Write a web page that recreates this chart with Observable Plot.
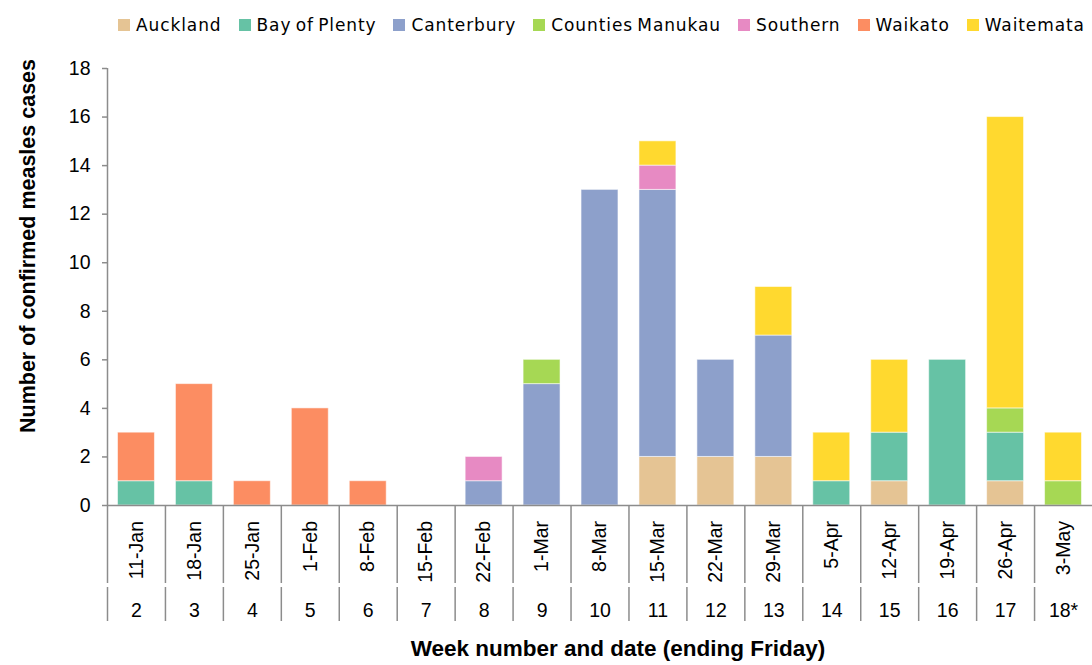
<!DOCTYPE html>
<html>
<head>
<meta charset="utf-8">
<script src="https://cdn.jsdelivr.net/npm/d3@7"></script>
<script src="https://cdn.jsdelivr.net/npm/@observablehq/plot@0.6"></script>
<style>
  html, body { margin: 0; padding: 0; background: #fff; }
  #wrap { width: 1092px; height: 665px; position: relative; overflow: hidden; }
  #legend { height: 50px; display: flex; align-items: center; padding-left: 118px; box-sizing: border-box;
            font-family: "DejaVu Sans", Verdana, sans-serif; font-size: 17px; letter-spacing: 0.9px; word-spacing: -2px; color: #000; white-space: nowrap; }
  .item { display: flex; align-items: center; margin-right: 17px; }
  .sw { width: 12px; height: 12px; margin-right: 6px; display: inline-block; }
  svg { display: block; }
</style>
</head>
<body>
<div id="wrap">
  <div id="legend"></div>
  <div id="chart"></div>
</div>
<script>
// Categories
const weeks = ["2","3","4","5","6","7","8","9","10","11","12","13","14","15","16","17","18*"];
const dates = ["11-Jan","18-Jan","25-Jan","1-Feb","8-Feb","15-Feb","22-Feb","1-Mar","8-Mar","15-Mar","22-Mar","29-Mar","5-Apr","12-Apr","19-Apr","26-Apr","3-May"];
const regions = ["Auckland","Bay of Plenty","Canterbury","Counties Manukau","Southern","Waikato","Waitemata"];
const colors = ["#e5c494","#66c2a5","#8da0cb","#a6d854","#e78ac3","#fc8d62","#ffd92f"];

// Series values (cases per week)
const auckland        = [0,0,0,0,0,0,0,0,0,2,2,2,0,1,0,1,0];
const bayOfPlenty     = [1,1,0,0,0,0,0,0,0,0,0,0,1,2,6,2,0];
const canterbury      = [0,0,0,0,0,0,1,5,13,11,4,5,0,0,0,0,0];
const countiesManukau = [0,0,0,0,0,0,0,1,0,0,0,0,0,0,0,1,1];
const southern        = [0,0,0,0,0,0,1,0,0,1,0,0,0,0,0,0,0];
const waikato         = [2,4,1,4,1,0,0,0,0,0,0,0,0,0,0,0,0];
const waitemata       = [0,0,0,0,0,0,0,0,0,1,0,2,2,3,0,12,2];

// Tick labels
const yTicks = [0,2,4,6,8,10,12,14,16,18];

const series = [auckland, bayOfPlenty, canterbury, countiesManukau, southern, waikato, waitemata];
const data = [];
series.forEach((vals, r) => vals.forEach((v, i) => { if (v > 0) data.push({week: weeks[i], region: regions[r], value: v}); }));
const dateOf = new Map(weeks.map((w, i) => [w, dates[i]]));

// Legend
const lg = document.getElementById("legend");
regions.forEach((r, i) => {
  const it = document.createElement("div"); it.className = "item";
  const sw = document.createElement("span"); sw.className = "sw"; sw.style.background = colors[i];
  const t = document.createElement("span"); t.textContent = r;
  it.appendChild(sw); it.appendChild(t); lg.appendChild(it);
});

const W = 1092, H = 615, mL = 107, mR = 0, mT = 18, mB = 160;
const bw = (W - mL - mR) / weeks.length;
const axisGray = "#8c8c8c";
const tickFont = 19.5;

const chart = Plot.plot({
  width: W, height: H,
  marginLeft: mL, marginRight: mR, marginTop: mT, marginBottom: mB,
  style: {fontFamily: "'Liberation Sans', Arial, sans-serif", fontSize: "19.5px", color: "#000", background: "#fff", overflow: "visible"},
  x: {type: "band", domain: weeks, padding: 0, round: false, axis: null},
  y: {domain: [0, 18], axis: null},
  color: {domain: regions, range: colors},
  marks: [
    Plot.barY(data, {x: "week", y: "value", fill: "region", order: regions,
      insetLeft: 10.5, insetRight: 10.5, stroke: "#fff", strokeWidth: 1, strokeOpacity: 0.55}),
    // y axis ticks, line and labels
    Plot.axisY(yTicks, {ticks: yTicks, tickSize: 5, tickFormat: () => "", stroke: axisGray, strokeWidth: 1.5, label: null}),
    Plot.ruleX([weeks[0]], {dx: -bw / 2, y1: 0, y2: 18, stroke: axisGray, strokeWidth: 1.5}),
    Plot.text(yTicks, {y: d => d, frameAnchor: "left", dx: -17, textAnchor: "end", lineAnchor: "middle", text: d => String(d), fontSize: tickFont}),
    // x axis line
    Plot.ruleY([0], {stroke: axisGray, strokeWidth: 1.5}),
    // category separators (two levels)
    Plot.axisX(weeks, {ticks: weeks, tickSize: 78, tickFormat: () => "", dx: -bw / 2, stroke: axisGray, strokeWidth: 1.5, label: null}),
    Plot.axisX(weeks, {ticks: weeks, tickSize: 34, tickFormat: () => "", dx: -bw / 2, dy: 82, stroke: axisGray, strokeWidth: 1.5, label: null}),
    // date labels (rotated)
    Plot.text(weeks, {x: d => d, frameAnchor: "bottom", dy: 15.5, rotate: -90, textAnchor: "end", lineAnchor: "middle",
      text: d => dateOf.get(d), fontSize: tickFont}),
    // week number labels
    Plot.text(weeks, {x: d => d, frameAnchor: "bottom", dy: 105, lineAnchor: "middle", text: d => d, fontSize: tickFont}),
    // axis titles
    Plot.text(["Number of confirmed measles cases"], {frameAnchor: "left", rotate: -90, dx: -79, dy: -41,
      textAnchor: "middle", lineAnchor: "middle", fontWeight: "bold", fontSize: 21.5, text: d => d}),
    Plot.text(["Week number and date (ending Friday)"], {frameAnchor: "bottom", dx: 18, dy: 143,
      textAnchor: "middle", lineAnchor: "middle", fontWeight: "bold", fontSize: 22.5, text: d => d})
  ]
});
document.getElementById("chart").appendChild(chart);
</script>
</body>
</html>
